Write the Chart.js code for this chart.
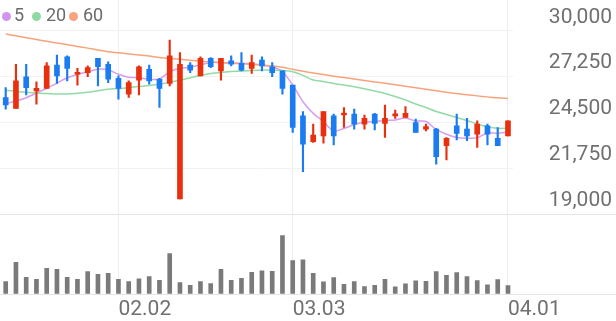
<!DOCTYPE html>
<html><head><meta charset="utf-8">
<script src="https://cdn.jsdelivr.net/npm/chart.js@4/dist/chart.umd.min.js"></script>
<style>
html,body{margin:0;padding:0;background:#fff;}
#wrap{position:relative;width:616px;height:321px;overflow:hidden;}
#c{position:absolute;left:0;top:0;}
.lg{position:absolute;left:0;top:0;font-family:Roboto,sans-serif;font-size:18px;color:#6b6b6b;}
.dot{position:absolute;width:9px;height:9px;border-radius:50%;top:11.5px;}
.lt{position:absolute;top:5.6px;line-height:18px;white-space:nowrap;}
</style></head><body>
<div id="wrap"><canvas id="c" width="616" height="321"></canvas>
<div class="lg">
<span class="dot" style="left:1.5px;background:#d195ee"></span><span class="lt" style="left:14px">5</span>
<span class="dot" style="left:32px;background:#8fd9a3"></span><span class="lt" style="left:46px">20</span>
<span class="dot" style="left:69px;background:#f8a37c"></span><span class="lt" style="left:83px">60</span>
</div></div>
<script>
const xTickIdx = [11, 28, 49];
const xTickLabels = ['02.02', '03.03', '04.01'];
const priceTicks = [19000, 21750, 24500, 27250, 30000];

const open  = [26000,25350,27250,26400,26550,27950,28450,27400,27500,28350,28000,27150,26200,27050,27700,27100,26850,19900,27950,27300,28350,27600,28200,28050,27750,28250,27850,27600,26750,24900,23350,23700,24900,24950,25000,24400,25000,24450,24900,24800,24500,24100,24100,23100,24300,24100,23800,24300,23550,23700];
const high  = [26600,28000,28000,26950,28100,28550,28500,27750,27900,28350,28150,27300,27000,27900,27950,27150,29450,28700,28100,28450,28400,28350,28500,28700,28550,28450,28100,27600,26750,25150,24400,25150,25000,25400,25300,24950,25050,25550,25250,25450,24700,24400,24150,23600,25000,24750,24600,24400,24200,24600];
const low   = [25300,25350,26150,25600,26550,26850,27000,26750,27250,26700,26900,25900,26000,26150,26800,25400,26700,19900,27500,27300,27800,27050,27900,27600,27450,27600,27250,26200,23900,21550,23300,23250,23150,24200,24100,24100,24050,23600,24750,24800,23900,24000,22000,22250,23450,23400,23000,23150,23100,23700];
const close = [25550,27000,26600,26550,27900,27300,27750,27500,27800,27850,27100,26550,26900,27850,27000,26550,28500,28000,27650,28350,27850,28350,28000,27650,28100,27900,27500,26550,24200,23200,23750,25150,23700,25050,24400,24750,24450,24750,25000,25050,23900,24250,22450,23550,23850,23700,24400,23800,23100,24600];
const ma5   = [25630,25790,25990,26270,26560,26870,27190,27390,27550,27700,27660,27400,27220,27190,27100,27110,27550,27760,27820,27960,28110,28090,28090,28060,28020,27960,27850,27550,26750,25750,25050,24560,23990,24140,24380,24530,24560,24620,24650,24770,24590,24560,24080,23790,23600,23550,23590,23870,23850,23930];
const ma20  = [26440,26370,26320,26270,26240,26210,26220,26260,26320,26410,26500,26540,26600,26660,26720,26800,26920,27050,27190,27330,27440,27510,27560,27600,27630,27640,27660,27630,27550,27330,27050,26960,26840,26750,26650,26530,26390,26240,26060,25850,25610,25400,25160,24980,24800,24620,24410,24240,24150,24150];
const ma60  = [29820,29710,29600,29490,29380,29280,29180,29070,28970,28860,28750,28690,28620,28560,28490,28410,28350,28300,28240,28180,28140,28100,28060,28030,27990,27940,27900,27820,27700,27580,27480,27380,27280,27200,27110,27030,26940,26860,26770,26680,26590,26500,26410,26320,26240,26170,26100,26040,25980,25940];
const volume = [60,157,82,72,127,122,82,72,110,97,102,72,60,74,85,67,200,55,42,60,50,122,67,77,107,114,112,290,165,169,102,59,80,47,60,35,42,72,34,49,64,62,110,92,105,85,65,44,70,40];

const N = close.length;
const idx = Array.from({length: N}, (_, i) => i);
const UP = '#e8300e', DOWN = '#1a7cf0';
const candleColor = idx.map(i => close[i] >= open[i] ? UP : DOWN);
const FONT = {family: 'Roboto', size: 21};
const TXT = '#707070';

const sepPlugin = {
  id: 'sep',
  beforeDatasetsDraw(chart) {
    const ctx = chart.ctx, yS = chart.scales.y, vS = chart.scales.yv;
    ctx.save();
    ctx.strokeStyle = '#e4e4e4';
    ctx.lineWidth = 1;
    [yS.getPixelForValue(priceTicks[0]), vS.getPixelForValue(0)].forEach(y => {
      const yy = Math.round(y) + 0.5;
      ctx.beginPath(); ctx.moveTo(0, yy); ctx.lineTo(chart.width, yy); ctx.stroke();
    });
    ctx.restore();
  }
};

const lineDs = (label, arr, color) => ({
  type: 'line', label, data: idx.map(i => ({x: i, y: arr[i]})),
  borderColor: color, borderWidth: 1.5, pointRadius: 0, tension: 0.3,
  order: 5, yAxisID: 'y'
});

new Chart(document.getElementById('c'), {
  type: 'bar',
  data: {
    datasets: [
      lineDs('60', ma60, '#f8a37c'),
      lineDs('20', ma20, '#93dba5'),
      lineDs('5', ma5, '#d79df0'),
      {label: 'wick', data: idx.map(i => ({x: i, y: [low[i], high[i]]})),
       backgroundColor: candleColor, barThickness: 1.5, grouped: false, order: 2, yAxisID: 'y'},
      {label: 'body', data: idx.map(i => ({x: i, y: [Math.min(open[i], close[i]), Math.max(open[i], close[i])]})),
       backgroundColor: candleColor, barThickness: 5, minBarLength: 2, grouped: false, order: 1, yAxisID: 'y'},
      {label: 'vol', data: idx.map(i => ({x: i, y: volume[i]})),
       backgroundColor: '#7a7a7a', barThickness: 4, grouped: false, order: 3, yAxisID: 'yv'}
    ]
  },
  options: {
    responsive: false, animation: false, devicePixelRatio: 1,
    layout: {padding: {left: 0, right: 4, top: 0, bottom: 0}},
    plugins: {legend: {display: false}, tooltip: {enabled: false}},
    scales: {
      x: {
        type: 'linear', min: -0.556, max: 49.5, offset: false,
        afterBuildTicks: s => { s.ticks = xTickIdx.map(v => ({value: v})); },
        afterFit: s => { s.height = 27.3; s.paddingLeft = 0; s.paddingRight = 0; },
        ticks: {align: 'start', padding: 3, maxRotation: 0, autoSkip: false, font: FONT, color: TXT,
                callback: v => xTickLabels[xTickIdx.indexOf(v)]},
        grid: {color: '#eeeeee', drawTicks: false, offset: false},
        border: {display: false}
      },
      y: {
        position: 'right', min: 14209, max: 31863,
        afterBuildTicks: s => { s.ticks = priceTicks.map(v => ({value: v})); },
        afterFit: s => { s.width = 98.9; s.paddingTop = 0; s.paddingBottom = 0; },
        ticks: {crossAlign: 'far', labelOffset: -13.5, padding: 0, autoSkip: false, font: FONT, color: TXT,
                callback: v => v.toLocaleString('en-US')},
        grid: {color: c => (c.tick && c.tick.value === priceTicks[0]) ? 'rgba(0,0,0,0)' : '#f2f2f2', drawTicks: false},
        border: {display: false}
      },
      yv: {display: false, min: 0, max: 1468.5}
    }
  },
  plugins: [sepPlugin]
});
</script>
</body></html>
